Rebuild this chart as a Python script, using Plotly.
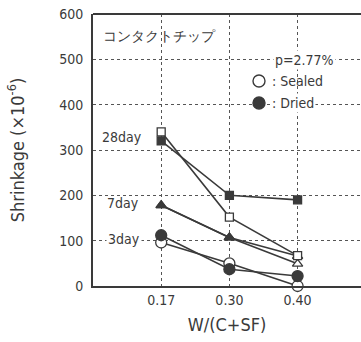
import plotly.graph_objects as go

categories = ["0.17", "0.30", "0.40"]
sealed_28 = [340, 152, 67]
dried_28 = [320, 200, 190]
sealed_7 = [178, 107, 49]
dried_7 = [178, 107, 66]
sealed_3 = [96, 50, 0]
dried_3 = [112, 37, 22]
y_ticks = [0, 100, 200, 300, 400, 500, 600]

INK = "#3a3a3a"
FONT = "DejaVu Sans Condensed, Liberation Sans Narrow, Roboto, sans-serif"

fig = go.Figure()

def add(y, symbol, filled, size):
    fig.add_trace(go.Scatter(
        x=categories, y=y, mode="lines+markers",
        line=dict(color=INK, width=1.6),
        marker=dict(symbol=symbol, size=size,
                    color=INK if filled else "white",
                    line=dict(color=INK, width=1.3)),
        showlegend=False, cliponaxis=False))

add(sealed_3, "circle", False, 11)
add(dried_3, "circle", True, 11)
add(sealed_7, "triangle-up", False, 9)
add(dried_7, "triangle-up", True, 9)
add(sealed_28, "square", False, 8)
add(dried_28, "square", True, 8)

fig.update_layout(
    width=361, height=342,
    margin=dict(l=93, r=0, t=14, b=56),
    paper_bgcolor="white", plot_bgcolor="white",
    font=dict(family=FONT, color=INK),
    xaxis=dict(type="category", range=[-1, 2.93],
               showgrid=True, gridcolor="#555", griddash="dot", gridwidth=1,
               showline=True, linecolor=INK, linewidth=2,
               ticks="", tickfont=dict(size=14, family=FONT),
               title=dict(text="W/(C+SF)", font=dict(size=18, family=FONT), standoff=12),
               zeroline=False),
    yaxis=dict(range=[0, 600], tickvals=y_ticks,
               showgrid=True, gridcolor="#555", griddash="dot", gridwidth=1,
               showline=True, linecolor=INK, linewidth=2,
               ticks="", tickfont=dict(size=14, family=FONT), ticklabelstandoff=5,
               title=dict(text="Shrinkage (×10<sup>-6</sup>)", font=dict(size=18, family=FONT), standoff=30),
               zeroline=False),
)

fig.add_shape(type="line", xref="paper", yref="paper", x0=0, x1=1, y0=1, y1=1,
              line=dict(color=INK, width=2))

W = 268.0
H = 272.0
def px(xp, yp):
    return (xp - 93) / W, (286 - yp) / H

def ann(text, x, y, size=14, bg=None):
    fig.add_annotation(text=text, x=x, y=y, xref="paper", yref="paper",
                       showarrow=False, xanchor="left", yanchor="middle",
                       font=dict(size=size, family=FONT, color=INK),
                       bgcolor=bg)

def legend_dot(xc, yc, filled):
    x0, y0 = px(xc - 6, yc + 6)
    x1, y1 = px(xc + 6, yc - 6)
    fig.add_shape(type="circle", xref="paper", yref="paper",
                  x0=x0, y0=y0, x1=x1, y1=y1,
                  fillcolor=INK if filled else "white",
                  line=dict(color=INK, width=1.4), layer="above")

ann("コンタクトチップ", *px(101, 36), size=14)
ann("28day", *px(100, 137), size=14)
ann("7day", *px(105, 203), size=14)
ann("3day", *px(106, 239), size=14, bg="white")
ann("p=2.77%", *px(273, 60), size=14, bg="white")
ann(": Sealed", *px(270, 81), size=14)
ann(": Dried", *px(270, 103), size=14, bg="white")
legend_dot(259, 81, False)
legend_dot(259, 103, True)

fig.write_html("out.html")
